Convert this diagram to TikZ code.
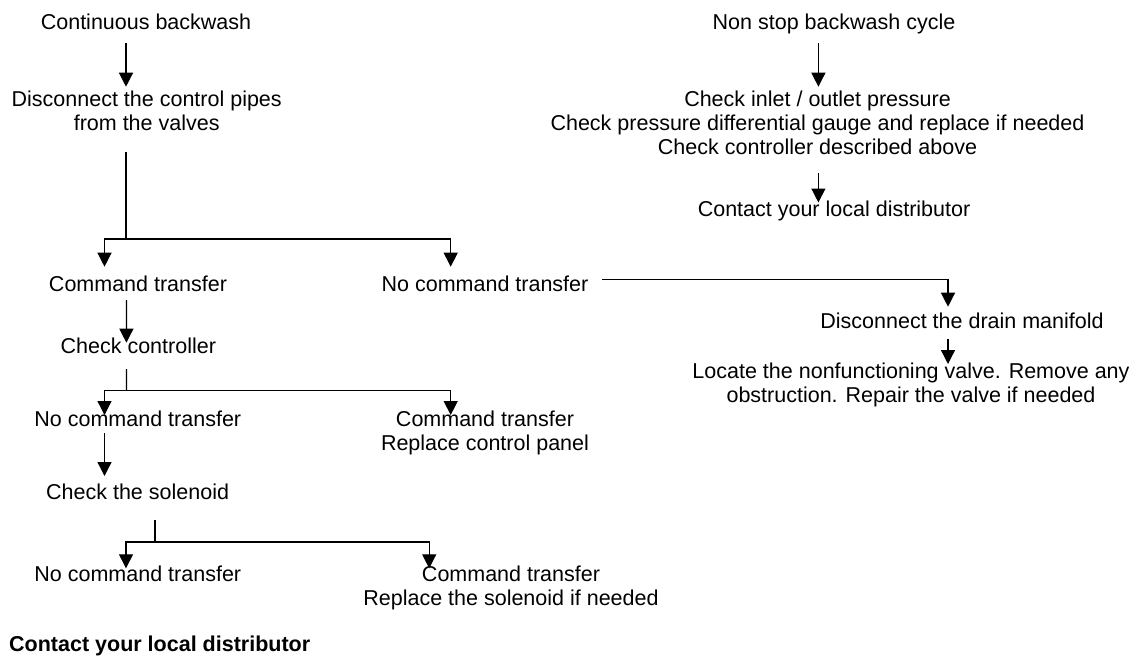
\documentclass[tikz,border=0pt]{standalone}
\usepackage{fontspec}
\setmainfont{Liberation Sans}
\usetikzlibrary{arrows.meta}
\newcommand\fsz{\fontsize{21.5}{24}\selectfont}
\tikzset{
  lbl/.style={font=\fsz, inner sep=0pt, anchor=base, align=center},
  arr/.style={-{Triangle[length=14pt,width=14pt]}, line width=1.3pt},
  ln/.style={line width=1.3pt},
}
\begin{document}
\begin{tikzpicture}[x=1pt,y=-1pt]
\fill[white] (0,0) rectangle (1143,657);
\useasboundingbox (0,0) rectangle (1143,657);
% left column (multi-line nodes are placed by their last baseline)
\node[lbl] (cb) at (146,29.3) {Continuous backwash};
\node[lbl] (dc) at (146.7,130) {Disconnect the control pipes\\from the valves};
\node[lbl] (ct1) at (138,291) {Command transfer};
\node[lbl] (nct1) at (485,291) {No command transfer};
\node[lbl] (cc) at (138.3,353.3) {Check controller};
\node[lbl] (nct2) at (137.8,426.7) {No command transfer};
\node[lbl] (ct2) at (485,450.7) {Command transfer\\Replace control panel};
\node[lbl] (cs) at (137.6,499) {Check the solenoid};
\node[lbl] (nct3) at (137.8,581.7) {No command transfer};
\node[lbl] (ct3) at (511,605.7) {Command transfer\\Replace the solenoid if needed};
\node[lbl, anchor=base west, font=\fsz\bfseries] (cld) at (9,651.7) {Contact your local distributor};
% right column
\node[lbl] (nsb) at (834,29.3) {Non stop backwash cycle};
\node[lbl] (ci) at (817.5,154) {Check inlet / outlet pressure\\Check pressure differential gauge and replace if needed\\Check controller described above};
\node[lbl] (cld2) at (834,216.7) {Contact your local distributor};
\node[lbl] (ddm) at (962,328.3) {Disconnect the drain manifold};
\node[lbl] (loc) at (911,402.3) {Locate the nonfunctioning valve. Remove any\\obstruction. Repair the valve if needed};
% junctions
\coordinate (j1) at (126,239);
\coordinate (j2) at (126.4,390.5);
\coordinate (j3) at (155,542);
% connectors
\draw[arr] ([shift={(-20,14)}]cb.base) -- ([shift={(-20.7,-43.3)}]dc.base);
\draw[ln] ([shift={(-20.7,21.7)}]dc.base) -- (j1);
\draw[arr] (j1) -| ([shift={(-33.5,-24.3)}]ct1.base);
\draw[arr] (j1) -| ([shift={(-34.3,-24.3)}]nct1.base);
\draw[arr] ([shift={(117,-11.7)}]nct1.base) -| ([shift={(-14,-21.6)}]ddm.base);
\draw[arr] ([shift={(-11.6,9)}]ct1.base) -- ([shift={(-11.9,-10.6)}]cc.base);
\draw[ln] ([shift={(-11.9,15.7)}]cc.base) -- (j2);
\draw[arr] (j2) -| ([shift={(-33.3,-11.7)}]nct2.base);
\draw[arr] (j2) -| ([shift={(-34.3,-35.7)}]ct2.base);
\draw[arr] ([shift={(-33.3,6.6)}]nct2.base) -- ([shift={(-33.1,-23)}]cs.base);
\draw[ln] ([shift={(17.4,21)}]cs.base) -- (j3);
\draw[arr] (j3) -| ([shift={(-11.8,-13.4)}]nct3.base);
\draw[arr] (j3) -| ([shift={(-81.8,-37.4)}]ct3.base);
\draw[arr] ([shift={(-15.6,14)}]nsb.base) -- ([shift={(0.9,-67.3)}]ci.base);
\draw[arr] ([shift={(0.9,19.3)}]ci.base) -- ([shift={(-15.6,-14.2)}]cld2.base);
\draw[arr] ([shift={(-14,11)}]ddm.base) -- ([shift={(37,-38.3)}]loc.base);
\end{tikzpicture}
\end{document}
